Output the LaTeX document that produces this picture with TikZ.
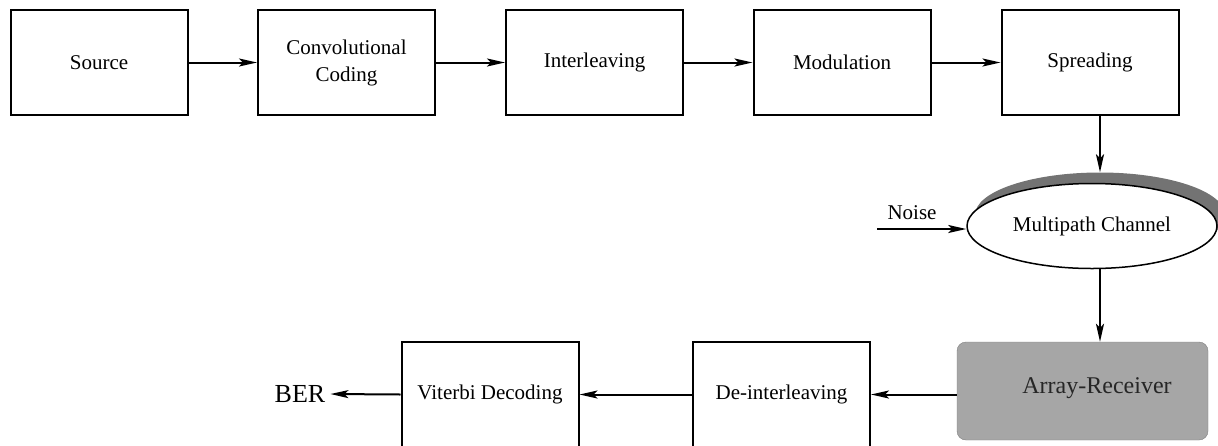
\documentclass[tikz,border=0pt]{standalone}
\usepackage{fontspec}
\setmainfont{Liberation Serif}
\usetikzlibrary{arrows.meta,shapes.geometric,calc}
\begin{document}
\begin{tikzpicture}[x=1pt,y=-1pt,
  blk/.style={draw=black,line width=2pt,minimum width=177pt,minimum height=105pt,inner sep=0pt,align=center,
    font=\fontsize{21}{27}\selectfont},
  arr/.style={line width=2pt,-{Stealth[length=18pt,width=8pt,inset=4pt]}},
  lbl/.style={inner sep=0pt,font=\fontsize{21}{24}\selectfont}]
\useasboundingbox (0,0) rectangle (1218,445);
\clip (0,0) rectangle (1218,445);
% top row
\node[blk] (src) at (99,62.5) {Source};
\node[blk] (conv) at (346.5,62.5) {Convolutional\\Coding};
\node[blk] (intl) at (594.5,62.5) {Interleaving};
\node[blk] (mod) at (842,62.5) {Modulation};
\node[blk] (spread) at (1090,62.5) {Spreading};
\draw[arr] (src.east) -- (conv.west);
\draw[arr] (conv.east) -- (intl.west);
\draw[arr] (intl.east) -- (mod.west);
\draw[arr] (mod.east) -- (spread.west);
% channel
\node[ellipse,fill=black!55,minimum width=250pt,minimum height=85pt,inner sep=0pt] (chsh) at (1100,215) {};
\node[ellipse,draw=black,line width=1.5pt,fill=white,minimum width=250pt,minimum height=85pt,inner sep=0pt,
  font=\fontsize{21}{24}\selectfont] (chan) at (1092,226) {Multipath Channel};
\coordinate (sx) at (1100,0);
\draw[arr] (sx |- spread.south) -- (sx |- chsh.north);
\coordinate (nz) at (877,229);
\draw[arr] (nz) -- (chan.west |- nz);
\node[lbl] (noise) at (912,213) {Noise};
% receiver
\node[draw=black!50,fill=black!35,rounded corners=9pt,minimum width=251pt,minimum height=98pt,inner sep=0pt] (recv) at (1082.5,391) {};
\node[lbl,font=\fontsize{24}{27}\selectfont,text=black!85] (recvt) at (1097,388) {Array-Receiver};
\draw[arr] (sx |- chan.south) -- (sx |- recv.north);
% bottom row
\node[blk] (deint) at (781.5,394.5) {De-interleaving};
\node[blk] (vit) at (490,394.5) {Viterbi Decoding};
\node[lbl,font=\fontsize{26}{28}\selectfont] (ber) at (300,394) {BER};
\draw[arr] (vit.west) -- ([xshift=5pt]ber.east);
\draw[arr] (recv.west |- deint.east) -- (deint.east);
\draw[arr] (deint.west) -- (vit.east);
\end{tikzpicture}
\end{document}
